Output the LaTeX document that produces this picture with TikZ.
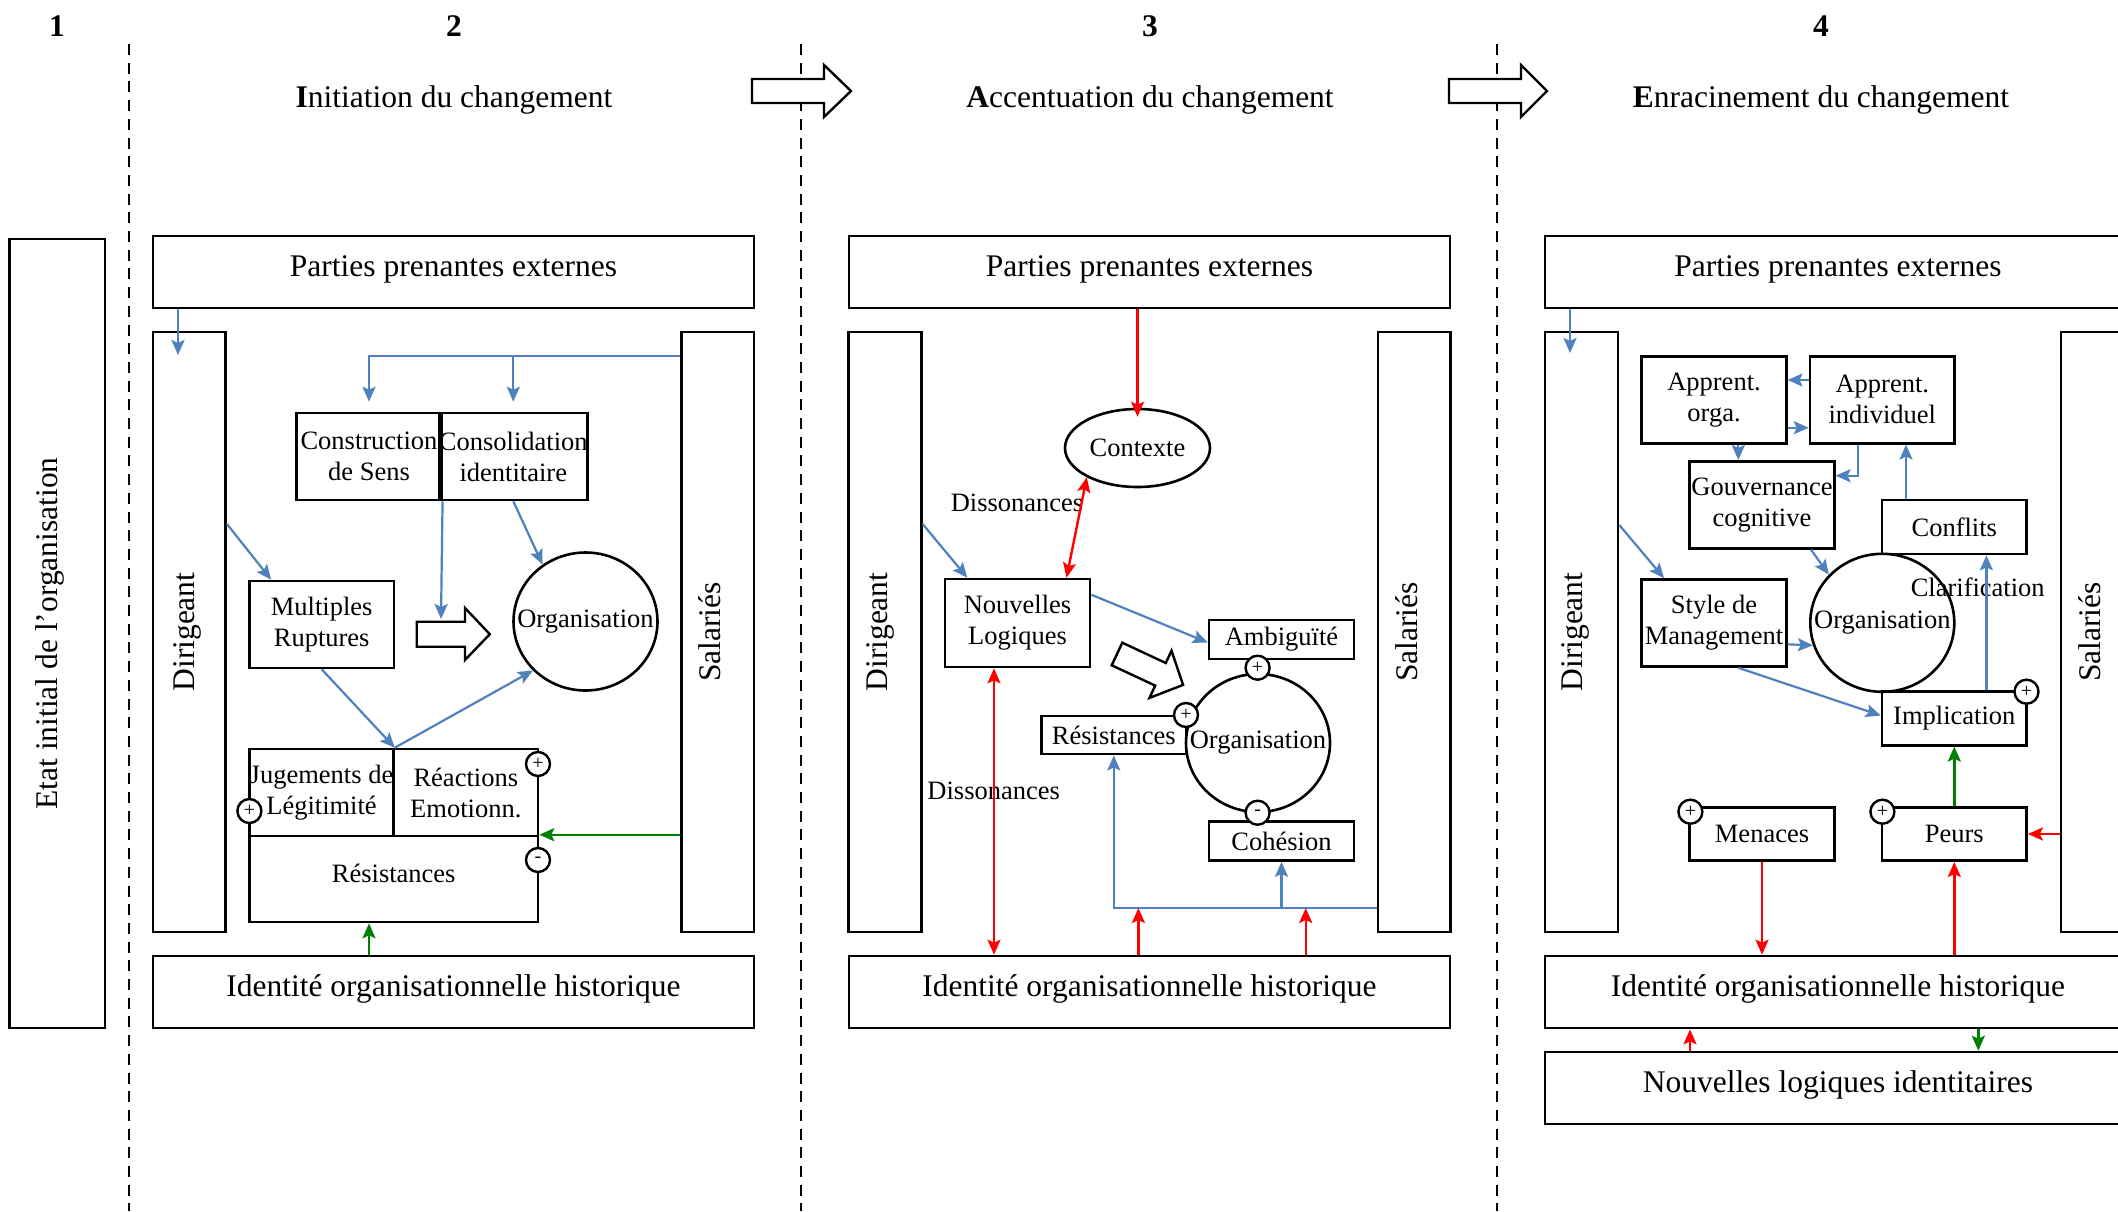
\documentclass[tikz,border=0pt]{standalone}
\usepackage{fontspec}
\setmainfont{Liberation Serif}
\usetikzlibrary{arrows.meta,calc,shapes.geometric}
\newcommand{\fBig}{\fontsize{31.5}{36}\selectfont}
\newcommand{\fSmall}{\fontsize{26.5}{31}\selectfont}
\definecolor{myblue}{RGB}{79,129,189}
\definecolor{mygreen}{RGB}{0,128,0}
\definecolor{myred}{RGB}{255,0,0}
\begin{document}
\begin{tikzpicture}[x=1pt,y=-1pt,
  bigbox/.style={draw, line width=2.6pt, inner sep=0pt, align=center, font=\fBig, text height=22pt, text depth=14pt},
  emptybox/.style={draw, line width=2.6pt, inner sep=0pt},
  smbox/.style={draw, line width=2.6pt, inner sep=0pt, align=center, font=\fSmall, minimum width=144.5pt},
  orgell/.style={ellipse, draw, line width=2.6pt, inner sep=0pt, minimum width=144pt, minimum height=138pt, label={[inner sep=0pt, font=\fSmall]center:Organisation}},
  sign/.style={circle, draw, fill=white, line width=2.4pt, minimum size=24pt, inner sep=0pt, font=\fontsize{20}{20}\selectfont},
  lbl/.style={inner sep=0pt, font=\fSmall},
  vlbl/.style={inner sep=0pt, font=\fBig, rotate=90},
  numlbl/.style={inner sep=0pt, font=\fBig\bfseries, anchor=base},
  ttl/.style={inner sep=0pt, font=\fBig, anchor=base},
  barrow/.style={draw=myblue, line width=2.2pt, -{Stealth[length=15pt,width=13pt,inset=3pt]}},
  rarrow/.style={draw=myred, line width=2.4pt, -{Stealth[length=15pt,width=13pt,inset=3pt]}},
  rdarrow/.style={draw=myred, line width=2.4pt, {Stealth[length=15pt,width=13pt,inset=3pt]}-{Stealth[length=15pt,width=13pt,inset=3pt]}},
  garrow/.style={draw=mygreen, line width=2.4pt, -{Stealth[length=15pt,width=13pt,inset=3pt]}},
  blockarr/.style={draw, line width=2.4pt, fill=white, line join=miter},
  sepline/.style={line width=2.6pt, dash pattern=on 11pt off 7.7pt}
]
\path[use as bounding box, clip] (0,0) rectangle (2118,1211);
\fill[white] (0,0) rectangle (2118,1211);

% separators
\draw[sepline] (129,44) -- (129,1211);
\draw[sepline] (801,44) -- (801,1211);
\draw[sepline] (1497,44) -- (1497,1211);

% numbers and titles
\node[numlbl] (n1) at (57,36) {1};
\node[numlbl] (n2) at (454,36) {2};
\node[numlbl] (n3) at (1150,36) {3};
\node[numlbl] (n4) at (1821,36) {4};
\node[ttl] (t2) at (454,107) {\textbf{I}nitiation du changement};
\node[ttl] (t3) at (1150,107) {\textbf{A}ccentuation du changement};
\node[ttl] (t4) at (1821,107) {\textbf{E}nracinement du changement};

% block arrows between phases
\draw[blockarr] (752,79) -- (824,79) -- (824,65) -- (851,91) -- (824,117) -- (824,103) -- (752,103) -- cycle;
\draw[blockarr] (1449,79) -- (1521,79) -- (1521,65) -- (1547,91) -- (1521,117) -- (1521,103) -- (1449,103) -- cycle;

% phase 1
\node[emptybox, minimum width=95.5pt, minimum height=789pt] (etat) at (57.3,633.5) {};
\node[vlbl] (etatt) at (50,633.5) {Etat initial de l’organisation};

% ================= phase 2 =================
\node[bigbox, minimum width=601pt, minimum height=72pt] (ppe2) at (453.5,272) {Parties prenantes externes};
\node[emptybox, minimum width=72.7pt, minimum height=600pt] (dir2) at (189.3,632) {};
\node[vlbl] (dir2t) at (187,632) {Dirigeant};
\node[emptybox, minimum width=72.4pt, minimum height=600pt] (sal2) at (717.8,632) {};
\node[vlbl] (sal2t) at (710,632) {Salariés};
\node[bigbox, minimum width=601pt, minimum height=72pt] (id2) at (453.5,992) {Identité organisationnelle historique};

\node[smbox, minimum height=87pt] (cds) at (369,456.5) {Construction\\de Sens};
\node[smbox, minimum height=87pt] (cid) at (513.3,456.5) {Consolidation\\identitaire};
\node[smbox, minimum height=87pt] (mr) at (321.7,624.5) {Multiples\\Ruptures};
\node[orgell] (org2) at (585.5,621.5) {};
\node[smbox, minimum width=144pt, minimum height=87pt] (jug) at (321.5,792.5) {Jugements de\\Légitimité};
\node[smbox, minimum height=87pt] (rea) at (465.8,792.5) {Réactions\\Emotionn.};
\node[smbox, minimum width=288.6pt, minimum height=86pt, text depth=12pt] (res2) at (393.7,879) {Résistances};

\draw[blockarr] (416.7,621.7) -- (465,621.7) -- (465,608) -- (489.8,634.2) -- (465,660) -- (465,646.7) -- (416.7,646.7) -- cycle;

\coordinate (a2) at (178,355);
\draw[barrow] (ppe2.south -| a2) -- (a2);
\coordinate (j2) at (370,356);
\draw[barrow, shorten >=10pt] (sal2.west |- j2) -| (cds.north);
\draw[barrow, shorten >=10pt] (cid.north |- j2) -- (cid.north);
\draw[barrow] (dir2.east |- 0,524) -- ($(mr.north west)+(23,0)$);
\coordinate (bk2) at (441,619);
\draw[barrow] (cds.south east) -- (bk2);
\draw[barrow] (cid.south) -- (org2.127);
\draw[barrow] (mr.south) -- (jug.north east);
\draw[barrow] (jug.north east) -- (org2.223);
\draw[garrow] (sal2.west |- res2.north east) -- (res2.north east);
\draw[garrow] (id2.north -| cds.north) -- (res2.south -| cds.north);

\node[sign] (p2a) at (538,764) {+};
\node[sign] (p2b) at (249.4,811) {+};
\node[sign] (m2) at (538,860) {-};

% ================= phase 3 =================
\node[bigbox, minimum width=601pt, minimum height=72pt] (ppe3) at (1149.5,272) {Parties prenantes externes};
\node[emptybox, minimum width=72.7pt, minimum height=600pt] (dir3) at (885,632) {};
\node[vlbl] (dir3t) at (880,632) {Dirigeant};
\node[emptybox, minimum width=72.4pt, minimum height=600pt] (sal3) at (1414,632) {};
\node[vlbl] (sal3t) at (1407,632) {Salariés};
\node[bigbox, minimum width=601pt, minimum height=72pt] (id3) at (1149.5,992) {Identité organisationnelle historique};

\node[ellipse, draw, line width=2.6pt, inner sep=0pt, minimum width=145pt, minimum height=78pt, label={[inner sep=0pt, font=\fSmall]center:Contexte}] (ctx) at (1137.5,448) {};
\node[smbox, minimum width=145pt, minimum height=88pt] (nl) at (1017.5,623) {Nouvelles\\Logiques};
\node[smbox, minimum width=145pt, minimum height=39pt] (amb) at (1281.5,639.5) {Ambiguïté};
\node[orgell] (org3) at (1258,743) {};
\node[smbox, minimum width=144.4pt, minimum height=38.3pt] (res3) at (1113.8,735) {Résistances};
\node[smbox, minimum width=145pt, minimum height=39pt] (coh) at (1281.5,841) {Cohésion};
\node[lbl] (dis1) at (1017,503) {Dissonances};
\node[lbl] (dis2) at (993.7,791) {Dissonances};

\draw[blockarr] (1122.3,642.7) -- (1165.8,663) -- (1171.5,650.7) -- (1183.1,684.9) -- (1149.5,697.9) -- (1155.2,685.6) -- (1111.7,665.3) -- cycle;

\draw[rarrow, shorten >=-9pt] (ppe3.south -| ctx.north) -- (ctx.north);
\draw[rdarrow] (ctx.210) -- ($(nl.north)+(49,0)$);
\draw[barrow] (dir3.east |- 0,524) -- ($(nl.north west)+(23.6,0)$);
\draw[barrow] ($(nl.north east)+(0,17)$) -- ($(amb.west)+(0,3)$);
\coordinate (d3) at (994,0);
\draw[rdarrow] (nl.south -| d3) -- (id3.north -| d3);
\coordinate (l3) at (1200,908);
\draw[barrow] (sal3.west |- l3) -| (res3.south);
\draw[barrow] (coh.south |- l3) -- (coh.south);
\coordinate (r3a) at (1138.4,908);
\coordinate (r3b) at (1305.7,908);
\draw[rarrow] (id3.north -| r3a) -- (r3a);
\draw[rarrow] (id3.north -| r3b) -- (r3b);

\node[sign] (p3a) at (1257.6,667.7) {+};
\node[sign] (p3b) at (1186,715) {+};
\node[sign] (m3) at (1257.6,812.7) {-};

% ================= phase 4 =================
\node[bigbox, minimum width=586pt, minimum height=72pt] (ppe4) at (1838,272) {Parties prenantes externes};
\node[emptybox, minimum width=73pt, minimum height=600pt] (dir4) at (1581.5,632) {};
\node[vlbl] (dir4t) at (1575.6,632) {Dirigeant};
\node[emptybox, minimum width=72.4pt, minimum height=600pt] (sal4) at (2097,632) {};
\node[vlbl] (sal4t) at (2090,632) {Salariés};
\node[bigbox, minimum width=586pt, minimum height=72pt] (id4) at (1838,992) {Identité organisationnelle historique};
\node[bigbox, minimum width=586pt, minimum height=72pt] (nli) at (1838,1088) {Nouvelles logiques identitaires};

\node[smbox, minimum height=87pt] (ao) at (1714,399.7) {Apprent.\\orga.};
\node[smbox, minimum height=87pt] (ai) at (1882.3,399.7) {Apprent.\\individuel};
\node[smbox, minimum height=87pt] (gc) at (1762,504.8) {Gouvernance\\cognitive};
\node[smbox, minimum height=54pt] (conf) at (1954.3,527) {Conflits};
\node[smbox, minimum height=87pt] (sm) at (1714,623) {Style de\\Management};
\node[orgell] (org4) at (1882.3,622.8) {};
\node[smbox, minimum height=53.6pt] (impl) at (1954.3,718.5) {Implication};
\node[smbox, minimum height=53.4pt] (men) at (1762,834) {Menaces};
\node[smbox, minimum height=53.4pt] (peu) at (1954.3,834) {Peurs};
\node[lbl] (clar) at (1977.7,587) {Clarification};

\coordinate (a4) at (1570,353);
\draw[barrow] (ppe4.south -| a4) -- (a4);
\coordinate (y4a) at (0,380);
\coordinate (y4b) at (0,427.7);
\draw[barrow] (ai.west |- y4a) -- (ao.east |- y4a);
\draw[barrow] (ao.east |- y4b) -- (ai.west |- y4b);
\coordinate (x4a) at (1738.3,0);
\draw[barrow] (ao.south -| x4a) -- (gc.north -| x4a);
\coordinate (x4b) at (1858,0);
\coordinate (y4c) at (0,475.7);
\draw[barrow] (ai.south -| x4b) |- (gc.east |- y4c);
\coordinate (x4c) at (1906,0);
\draw[barrow] (conf.north -| x4c) -- (ai.south -| x4c);
\draw[barrow] (dir4.east |- 0,525) -- ($(sm.north west)+(23.6,0)$);
\coordinate (x4d) at (1811,0);
\draw[barrow] (gc.south -| x4d) -- (org4.138);
\draw[barrow] (sm.east |- 0,644.3) -- (org4.198);
\draw[barrow] (sm.south -| x4a) -- ($(impl.west)+(0,-3)$);
\coordinate (x4e) at (1986.4,0);
\draw[barrow] (impl.north -| x4e) -- (conf.south -| x4e);
\draw[garrow] (peu.north) -- (impl.south);
\draw[rarrow] (sal4.west |- peu.east) -- (peu.east);
\draw[rarrow] (men.south) -- (id4.north -| men.south);
\draw[rarrow] (id4.north -| peu.south) -- (peu.south);
\coordinate (x4f) at (1690,0);
\draw[rarrow] (nli.north -| x4f) -- (id4.south -| x4f);
\coordinate (x4g) at (1978.3,0);
\draw[garrow] (id4.south -| x4g) -- (nli.north -| x4g);

\node[sign] (p4a) at (2026.5,691.7) {+};
\node[sign] (p4b) at (1690.4,811.7) {+};
\node[sign] (p4c) at (1882.4,811.7) {+};
\end{tikzpicture}
\end{document}
